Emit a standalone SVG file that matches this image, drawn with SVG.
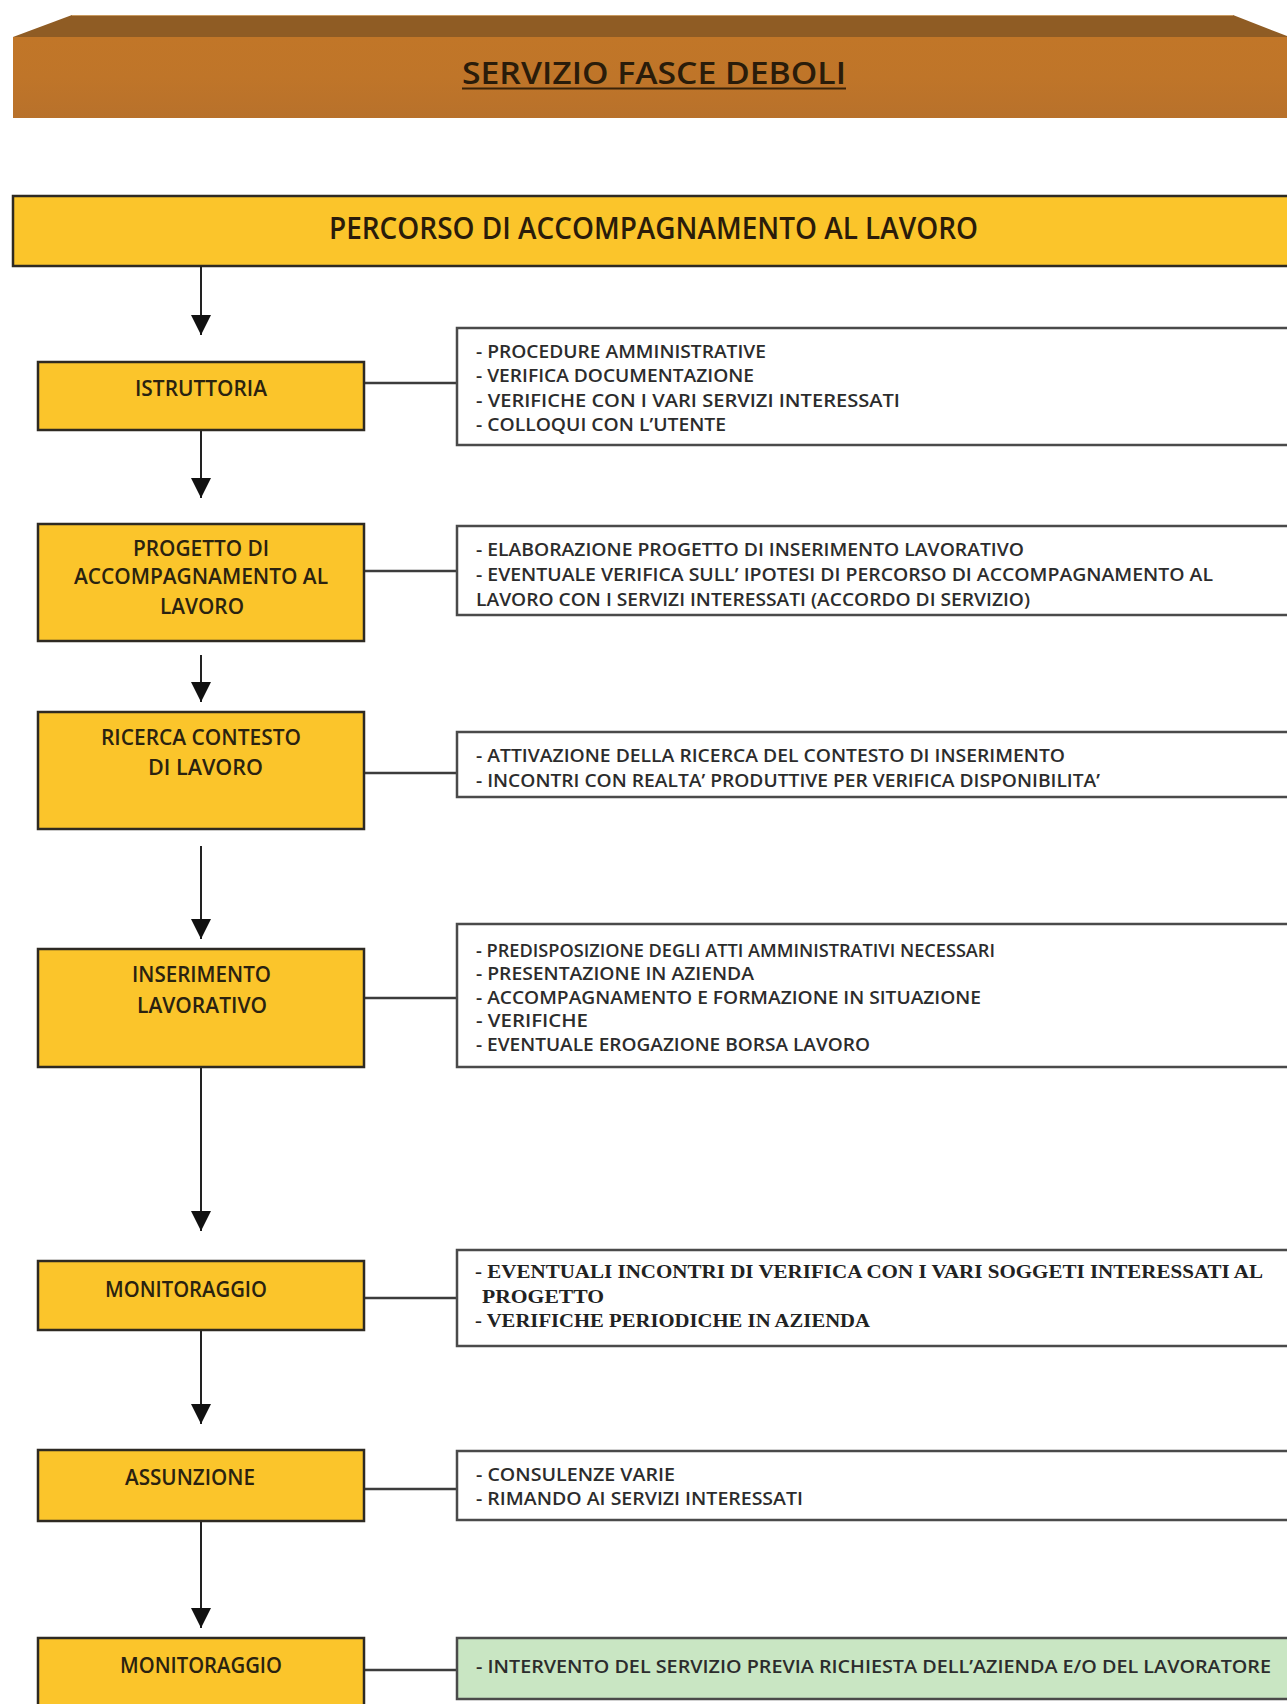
<svg xmlns="http://www.w3.org/2000/svg" width="1287" height="1704" viewBox="0 0 1287 1704">
  <style>
    .step { fill: #fbc52b; stroke: #2e2a22; stroke-width: 2.5; }
    .info { fill: #ffffff; stroke: #4a4a4a; stroke-width: 2.5; }
    .info-green { fill: #c9e6c3; stroke: #4a4a4a; stroke-width: 2.5; }
    .lbl { font-family: "Open Sans", "Noto Sans", "Liberation Sans", sans-serif; font-weight: 600; font-size: 21.5px; fill: #2a2210; }
    .txt { font-family: "Open Sans", "Noto Sans", "Liberation Sans", sans-serif; font-weight: 600; font-size: 18.5px; fill: #2c2c2c; }
    .txt-serif { font-family: "Liberation Serif", "Times New Roman", serif; font-weight: bold; font-size: 19px; fill: #222222; }
    .head { font-family: "Open Sans", "Noto Sans", "Liberation Sans", sans-serif; font-weight: 600; font-size: 31px; fill: #2a1c0a; }
    .flow { stroke: #222222; stroke-width: 2; fill: none; }
    .link { stroke: #3c3c3c; stroke-width: 2.5; fill: none; }
  </style>
  <defs>
    <marker id="arrow" markerUnits="userSpaceOnUse" markerWidth="20" markerHeight="20" refX="20" refY="10" viewBox="0 0 20 20" orient="auto">
      <path d="M0,0 L20,10 L0,20 Z" fill="#111111"/>
    </marker>
    <linearGradient id="frontFace" x1="0" y1="0" x2="0" y2="1">
      <stop offset="0" stop-color="#c17628"/>
      <stop offset="0.5" stop-color="#bf7529"/>
      <stop offset="1" stop-color="#b8712b"/>
    </linearGradient>
  </defs>

  <rect x="0" y="0" width="1287" height="1704" fill="#ffffff"/>

  <!-- bevelled banner -->
  <g id="banner">
    <polygon points="13,37 72,15 1233,15 1287,36 1287,38 13,38" fill="#8f5c24"/>
    <line x1="72" y1="15.5" x2="1233" y2="15.5" stroke="#c89a60" stroke-width="1"/>
    <rect x="13" y="37" width="1274" height="81" fill="url(#frontFace)"/>
    <text class="head" x="462" y="84" textLength="384" lengthAdjust="spacingAndGlyphs">SERVIZIO FASCE DEBOLI</text>
    <rect x="462" y="87.5" width="384" height="2" fill="#3a2208"/>
  </g>

  <!-- main heading -->
  <g id="percorso">
    <rect class="step" x="13" y="196" width="1290" height="70"/>
    <text class="head" x="329" y="239" textLength="649" lengthAdjust="spacingAndGlyphs">PERCORSO DI ACCOMPAGNAMENTO AL LAVORO</text>
  </g>

  <!-- connectors -->
  <g id="connectors">
    <line class="flow" x1="201" y1="266" x2="201" y2="335" marker-end="url(#arrow)"/>
    <line class="flow" x1="201" y1="430" x2="201" y2="498" marker-end="url(#arrow)"/>
    <line class="flow" x1="201" y1="655" x2="201" y2="702" marker-end="url(#arrow)"/>
    <line class="flow" x1="201" y1="846" x2="201" y2="939" marker-end="url(#arrow)"/>
    <line class="flow" x1="201" y1="1067" x2="201" y2="1231" marker-end="url(#arrow)"/>
    <line class="flow" x1="201" y1="1330" x2="201" y2="1424" marker-end="url(#arrow)"/>
    <line class="flow" x1="201" y1="1521" x2="201" y2="1628" marker-end="url(#arrow)"/>

    <line class="link" x1="364" y1="383" x2="457" y2="383"/>
    <line class="link" x1="364" y1="571" x2="457" y2="571"/>
    <line class="link" x1="364" y1="773" x2="457" y2="773"/>
    <line class="link" x1="364" y1="998" x2="457" y2="998"/>
    <line class="link" x1="364" y1="1298" x2="457" y2="1298"/>
    <line class="link" x1="364" y1="1489" x2="457" y2="1489"/>
    <line class="link" x1="364" y1="1670" x2="457" y2="1670"/>
  </g>

  <!-- steps -->
  <g id="istruttoria">
    <rect class="step" x="38" y="362" width="326" height="68"/>
    <text class="lbl" x="135" y="396" textLength="132" lengthAdjust="spacingAndGlyphs">ISTRUTTORIA</text>
  </g>
  <g id="istruttoria-info" xml:space="preserve">
    <rect class="info" x="457" y="328" width="850" height="117"/>
    <text class="txt" x="476" y="358" textLength="290" lengthAdjust="spacingAndGlyphs">- PROCEDURE AMMINISTRATIVE</text>
    <text class="txt" x="476" y="382" textLength="278" lengthAdjust="spacingAndGlyphs">- VERIFICA DOCUMENTAZIONE</text>
    <text class="txt" x="476" y="407" textLength="424" lengthAdjust="spacingAndGlyphs">- VERIFICHE CON I VARI  SERVIZI INTERESSATI</text>
    <text class="txt" x="476" y="431" textLength="250" lengthAdjust="spacingAndGlyphs">- COLLOQUI CON L’UTENTE</text>
  </g>

  <g id="progetto">
    <rect class="step" x="38" y="524" width="326" height="117"/>
    <text class="lbl" x="133" y="556" textLength="136" lengthAdjust="spacingAndGlyphs">PROGETTO DI</text>
    <text class="lbl" x="74" y="584" textLength="254" lengthAdjust="spacingAndGlyphs">ACCOMPAGNAMENTO AL</text>
    <text class="lbl" x="160" y="614" textLength="84" lengthAdjust="spacingAndGlyphs">LAVORO</text>
  </g>
  <g id="progetto-info" xml:space="preserve">
    <rect class="info" x="457" y="526" width="850" height="89"/>
    <text class="txt" x="476" y="556" textLength="548" lengthAdjust="spacingAndGlyphs">- ELABORAZIONE PROGETTO DI INSERIMENTO  LAVORATIVO</text>
    <text class="txt" x="476" y="581" textLength="737" lengthAdjust="spacingAndGlyphs">- EVENTUALE  VERIFICA SULL’ IPOTESI DI PERCORSO DI ACCOMPAGNAMENTO AL</text>
    <text class="txt" x="476" y="606" textLength="554" lengthAdjust="spacingAndGlyphs">LAVORO CON I SERVIZI INTERESSATI (ACCORDO DI SERVIZIO)</text>
  </g>

  <g id="ricerca">
    <rect class="step" x="38" y="712" width="326" height="117"/>
    <text class="lbl" x="101" y="745" textLength="200" lengthAdjust="spacingAndGlyphs">RICERCA CONTESTO</text>
    <text class="lbl" x="148" y="775" textLength="115" lengthAdjust="spacingAndGlyphs">DI LAVORO</text>
  </g>
  <g id="ricerca-info">
    <rect class="info" x="457" y="732" width="850" height="65"/>
    <text class="txt" x="476" y="762" textLength="589" lengthAdjust="spacingAndGlyphs">- ATTIVAZIONE DELLA RICERCA DEL CONTESTO DI INSERIMENTO</text>
    <text class="txt" x="476" y="787" textLength="624" lengthAdjust="spacingAndGlyphs">- INCONTRI CON REALTA’ PRODUTTIVE PER VERIFICA DISPONIBILITA’</text>
  </g>

  <g id="inserimento">
    <rect class="step" x="38" y="949" width="326" height="118"/>
    <text class="lbl" x="132" y="982" textLength="139" lengthAdjust="spacingAndGlyphs">INSERIMENTO</text>
    <text class="lbl" x="137" y="1013" textLength="130" lengthAdjust="spacingAndGlyphs">LAVORATIVO</text>
  </g>
  <g id="inserimento-info" xml:space="preserve">
    <rect class="info" x="457" y="924" width="850" height="143"/>
    <text class="txt" x="476" y="957" textLength="519" lengthAdjust="spacingAndGlyphs">- PREDISPOSIZIONE DEGLI ATTI AMMINISTRATIVI NECESSARI</text>
    <text class="txt" x="476" y="980" textLength="278" lengthAdjust="spacingAndGlyphs">- PRESENTAZIONE IN AZIENDA</text>
    <text class="txt" x="476" y="1004" textLength="505" lengthAdjust="spacingAndGlyphs">- ACCOMPAGNAMENTO E  FORMAZIONE IN SITUAZIONE</text>
    <text class="txt" x="476" y="1027" textLength="112" lengthAdjust="spacingAndGlyphs">- VERIFICHE</text>
    <text class="txt" x="476" y="1051" textLength="394" lengthAdjust="spacingAndGlyphs">- EVENTUALE EROGAZIONE BORSA LAVORO</text>
  </g>

  <g id="monitoraggio-1">
    <rect class="step" x="38" y="1261" width="326" height="69"/>
    <text class="lbl" x="105" y="1297" textLength="162" lengthAdjust="spacingAndGlyphs">MONITORAGGIO</text>
  </g>
  <g id="monitoraggio-1-info" xml:space="preserve">
    <rect class="info" x="457" y="1250" width="850" height="96"/>
    <text class="txt-serif" x="475" y="1278" textLength="788" lengthAdjust="spacingAndGlyphs">- EVENTUALI  INCONTRI DI VERIFICA CON I VARI SOGGETI INTERESSATI AL</text>
    <text class="txt-serif" x="482" y="1303" textLength="122" lengthAdjust="spacingAndGlyphs">PROGETTO</text>
    <text class="txt-serif" x="475" y="1327" textLength="395" lengthAdjust="spacingAndGlyphs">- VERIFICHE PERIODICHE IN AZIENDA</text>
  </g>

  <g id="assunzione">
    <rect class="step" x="38" y="1450" width="326" height="71"/>
    <text class="lbl" x="125" y="1485" textLength="130" lengthAdjust="spacingAndGlyphs">ASSUNZIONE</text>
  </g>
  <g id="assunzione-info">
    <rect class="info" x="457" y="1451" width="850" height="69"/>
    <text class="txt" x="476" y="1481" textLength="199" lengthAdjust="spacingAndGlyphs">- CONSULENZE VARIE</text>
    <text class="txt" x="476" y="1505" textLength="327" lengthAdjust="spacingAndGlyphs">- RIMANDO AI SERVIZI INTERESSATI</text>
  </g>

  <g id="monitoraggio-2">
    <rect class="step" x="38" y="1638" width="326" height="80"/>
    <text class="lbl" x="120" y="1673" textLength="162" lengthAdjust="spacingAndGlyphs">MONITORAGGIO</text>
  </g>
  <g id="monitoraggio-2-info" xml:space="preserve">
    <rect class="info-green" x="457" y="1638" width="850" height="61"/>
    <text class="txt" x="476" y="1673" textLength="795" lengthAdjust="spacingAndGlyphs">- INTERVENTO DEL SERVIZIO PREVIA RICHIESTA DELL’AZIENDA  E/O DEL  LAVORATORE</text>
  </g>
</svg>
